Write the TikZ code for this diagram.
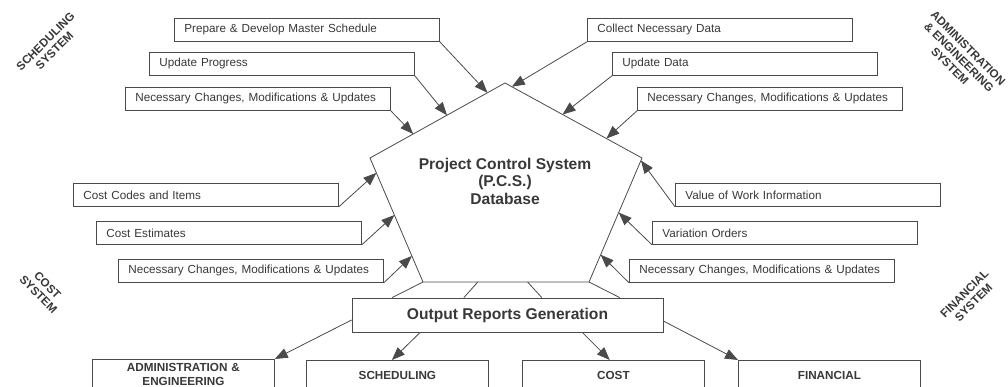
\documentclass[tikz,border=0pt]{standalone}
\usepackage{fontspec}
\setmainfont{Liberation Sans}
\usepackage{tikz}
\usetikzlibrary{calc,arrows.meta}
\definecolor{inkgray}{HTML}{383838}
\definecolor{rulegray}{HTML}{4A4A4A}
\tikzset{
   feedbox/.style={draw=rulegray, line width=0.8pt, anchor=north west, text=inkgray,
                   font=\fontsize{11.7}{14}\selectfont, text width=245pt, inner xsep=10pt,
                   minimum height=23pt, align=left},
   sinkbox/.style={draw=rulegray, line width=0.8pt, anchor=north west, text=inkgray,
                   font=\bfseries\fontsize{11.7}{14}\selectfont, text width=170pt, align=center,
                   minimum width=182pt, minimum height=30pt, inner ysep=2pt},
   sysnote/.style={text=inkgray, font=\bfseries\fontsize{11.6}{12.8}\selectfont, align=center}
}
\begin{document}
\begin{tikzpicture}[x=1pt, y=-1pt,
                    ->, >={Triangle[length=13pt,width=10pt]},
                    every edge/.style={draw=rulegray, line width=0.8pt},
                    dbtext/.style={text=inkgray, font=\bfseries\fontsize{15.6}{17.5}\selectfont, align=center},
                    reportbox/.style={draw=rulegray, line width=0.8pt, text=inkgray,
                                      font=\bfseries\fontsize{15.6}{18}\selectfont,
                                      minimum width=311pt, minimum height=34pt}]
\useasboundingbox (0, 0) rectangle (1008, 387);
\clip (0, 0) rectangle (1008, 387);
%
% database pentagon
\coordinate (top)  at (505, 83);
\coordinate (lft)  at (370, 158);
\coordinate (rgt)  at (642, 158);
\coordinate (blft) at (423, 282);
\coordinate (brgt) at (589, 282);
\draw[-, draw=rulegray, line width=0.8pt] (top) -- (rgt) -- (brgt) -- (blft) -- (lft) -- cycle;
\node[dbtext] (pcs) at (505, 181) {Project Control System\\(P.C.S.)\\Database};
%
\coordinate (s1) at ($ (top)!0.13!(lft) $);
\coordinate (s2) at ($ (top)!0.43!(lft) $);
\coordinate (s3) at ($ (top)!0.68!(lft) $);
\coordinate (c1) at ($ (lft)!0.12!(blft) $);
\coordinate (c2) at ($ (lft)!0.46!(blft) $);
\coordinate (c3) at ($ (lft)!0.79!(blft) $);
\coordinate (a1) at ($ (top)!0.05!(rgt) $);
\coordinate (a2) at ($ (top)!0.42!(rgt) $);
\coordinate (a3) at ($ (top)!0.74!(rgt) $);
\coordinate (f1) at ($ (rgt)!0.02!(brgt) $);
\coordinate (f2) at ($ (rgt)!0.44!(brgt) $);
\coordinate (f3) at ($ (rgt)!0.78!(brgt) $);
%
% scheduling inputs
\node[feedbox] (pms) at (174, 18)                       {Prepare \& Develop Master Schedule};
\node[feedbox] (upr) at ($ (pms.north west) + (-25, 34) $) {Update Progress};
\node[feedbox] (ncs) at ($ (upr.north west) + (-24, 35) $) {Necessary Changes, Modifications \& Updates};
% cost inputs
\node[feedbox] (ccd) at (73, 183)                       {Cost Codes and Items};
\node[feedbox] (ces) at ($ (ccd.north west) + (23, 38) $)  {Cost Estimates};
\node[feedbox] (ncc) at ($ (ces.north west) + (22, 38) $)  {Necessary Changes, Modifications \& Updates};
% administration inputs
\node[feedbox] (cnd) at (587, 18)                       {Collect Necessary Data};
\node[feedbox] (upd) at ($ (cnd.north west) + (25, 34) $)  {Update Data};
\node[feedbox] (nca) at ($ (upd.north west) + (25, 35) $)  {Necessary Changes, Modifications \& Updates};
% financial inputs
\node[feedbox] (vwi) at (675, 183)                      {Value of Work Information};
\node[feedbox] (vor) at ($ (vwi.north west) + (-23, 38) $) {Variation Orders};
\node[feedbox] (ncf) at ($ (vor.north west) + (-23, 38) $) {Necessary Changes, Modifications \& Updates};
%
\path
  (pms.south east) edge (s1)
  (upr.south east) edge (s2)
  (ncs.south east) edge (s3)
  (ccd.south east) edge (c1)
  (ces.south east) edge (c2)
  (ncc.south east) edge (c3)
  (cnd.south west) edge (a1)
  (upd.south west) edge (a2)
  (nca.south west) edge (a3)
  (vwi.south west) edge (f1)
  (vor.south west) edge (f2)
  (ncf.south west) edge (f3)
  ;
%
% reports
\node[reportbox] (out) at (507.5, 315) {Output Reports Generation};
\coordinate (o1) at ($ (out.north west)!0.13!(out.north east) $);
\coordinate (o2) at ($ (out.north west)!0.36!(out.north east) $);
\coordinate (o3) at ($ (out.north west)!0.61!(out.north east) $);
\coordinate (o4) at ($ (out.north west)!0.86!(out.north east) $);
\coordinate (r1) at ($ (out.south west)!0.22!(out.south east) $);
\coordinate (r2) at ($ (out.south west)!0.74!(out.south east) $);
\coordinate (p2) at ($ (blft)!0.33!(brgt) $);
\coordinate (p3) at ($ (blft)!0.63!(brgt) $);
\path[-]
  (blft) edge (o1)
  (p2) edge (o2)
  (p3) edge (o3)
  (brgt) edge (o4)
  ;
%
\node[sinkbox] (adm) at (92, 359)  {ADMINISTRATION \&\\ENGINEERING};
\node[sinkbox] (sch) at (306, 360) {SCHEDULING};
\node[sinkbox] (cst) at (522, 360) {COST};
\node[sinkbox] (fin) at (738, 360) {FINANCIAL};
\coordinate (t1) at ($ (sch.north west)!0.47!(sch.north east) $);
\coordinate (t2) at ($ (cst.north west)!0.48!(cst.north east) $);
\path
  ([yshift=-5pt]out.west) edge (adm.north east)
  (r1) edge (t1)
  (r2) edge (t2)
  ([yshift=-6pt]out.east) edge (fin.north west)
  ;
%
% system labels
\node[sysnote, rotate=45]  (schsys) at (50, 46)   {SCHEDULING\\SYSTEM};
\node[sysnote, rotate=-45] (admsys) at (959, 57)  {ADMINISTRATION\\\& ENGINEERING\\SYSTEM};
\node[sysnote, rotate=-45] (cstsys) at (43, 290)  {COST\\SYSTEM};
\node[sysnote, rotate=45]  (finsys) at (969, 298) {FINANCIAL\\SYSTEM};
\end{tikzpicture}
\end{document}
